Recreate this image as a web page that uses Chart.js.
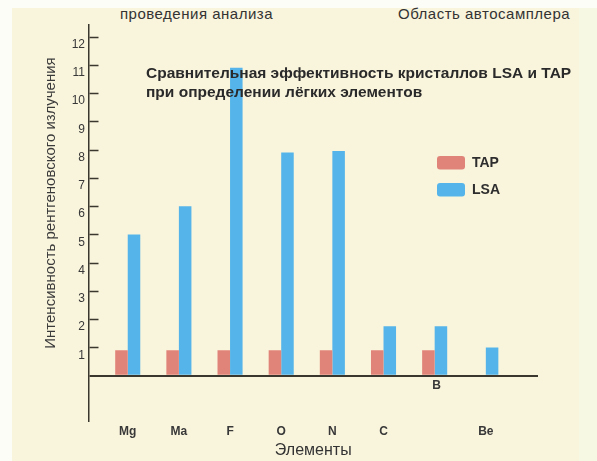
<!DOCTYPE html>
<html><head><meta charset="utf-8">
<script src="https://cdn.jsdelivr.net/npm/chart.js@4.4.0/dist/chart.umd.min.js"></script>
<style>
html,body{margin:0;padding:0;width:597px;height:461px;overflow:hidden;background:#fdfdf7;}
#bg{position:absolute;left:12px;top:8px;width:567px;height:453px;background:#f9f4dc;}
#strip{position:absolute;left:579px;top:8px;width:18px;height:453px;background:#f7f8e3;}
.hdr{position:absolute;top:5px;font:15px "Liberation Sans",Arial,sans-serif;letter-spacing:0.5px;color:#333;white-space:nowrap;line-height:17px;}
#wrap{position:absolute;left:0;top:0;width:597px;height:461px;}
</style></head>
<body>
<div id="bg"></div><div id="strip"></div>
<div class="hdr" id="h1" style="left:120px"></div>
<div class="hdr" id="h2" style="left:398px"></div>
<div id="wrap"><canvas id="c" width="597" height="461"></canvas></div>
<script>
// ---- data ----
const categories = ['Mg', 'Ma', 'F', 'O', 'N', 'C', 'B', 'Be'];
const tapValues = [0.9, 0.9, 0.9, 0.9, 0.9, 0.9, 0.9, null];
const lsaValues = [5, 6, 10.9, 7.9, 7.95, 1.75, 1.75, 1.0];
const yTickValues = [0, 1, 2, 3, 4, 5, 6, 7, 8, 9, 10, 11, 12];
const seriesNames = ['TAP', 'LSA'];
const seriesColors = ['#e0847a', '#55b5ea'];
const titleLines = ['Сравнительная эффективность кристаллов LSA и TAP', 'при определении лёгких элементов'];
const yTitle = 'Интенсивность рентгеновского излучения';
const xTitle = 'Элементы';
const headerTexts = ['проведения анализа', 'Область автосамплера'];
const nearAxisLabel = 'B';

document.getElementById('h1').textContent = headerTexts[0];
document.getElementById('h2').textContent = headerTexts[1];

const FONT = '"Liberation Sans", Arial, sans-serif';
Chart.defaults.font.family = FONT;
const ink = '#3a372e';
const textInk = '#383838';

const overlay = {
  id: 'overlay',
  afterDatasetsDraw(chart) {
    const {ctx, chartArea, scales: {x, y}} = chart;
    ctx.save();
    // tick marks drawn inside the plot, to the right of the axis
    ctx.strokeStyle = ink; ctx.lineWidth = 1.5;
    yTickValues.filter(v => v >= 1).forEach(v => {
      const py = Math.round(y.getPixelForValue(v)) + 0.5;
      ctx.beginPath(); ctx.moveTo(chartArea.left + 1, py); ctx.lineTo(chartArea.left + 10, py); ctx.stroke();
    });
    // label placed right under the baseline
    const bi = categories.indexOf(nearAxisLabel);
    ctx.fillStyle = textInk; ctx.font = 'bold 12px ' + FONT;
    ctx.textAlign = 'center'; ctx.textBaseline = 'middle';
    ctx.fillText(nearAxisLabel, x.getPixelForValue(bi) + 2, y.getPixelForValue(0) + 10);
    // title
    ctx.textAlign = 'left'; ctx.fillStyle = '#2a2a2a';
    ctx.font = 'bold 15.5px ' + FONT;
    titleLines.forEach((t, i) => ctx.fillText(t, 146, 74 + i * 19));
    // legend
    chart.data.datasets.forEach((ds, i) => {
      const by = 156 + i * 27;
      ctx.fillStyle = ds.backgroundColor;
      ctx.beginPath(); ctx.roundRect(437, by, 28, 13.5, 3); ctx.fill();
      ctx.fillStyle = '#2e2e2e'; ctx.font = 'bold 14px ' + FONT;
      ctx.textAlign = 'left'; ctx.textBaseline = 'middle';
      ctx.fillText(ds.label, 472, by + 7);
    });
    // y axis title
    ctx.translate(51, 203);
    ctx.rotate(-Math.PI / 2);
    ctx.fillStyle = '#3a3a3a'; ctx.font = '15px ' + FONT;
    ctx.textAlign = 'center'; ctx.textBaseline = 'middle';
    ctx.fillText(yTitle, 0, 0);
    ctx.restore();
  }
};

new Chart(document.getElementById('c'), {
  type: 'bar',
  data: {
    datasets: [
      {label: seriesNames[0], data: tapValues.map((v, i) => ({x: i, y: v})), backgroundColor: seriesColors[0]},
      {label: seriesNames[1], data: lsaValues.map((v, i) => ({x: i, y: v})), backgroundColor: seriesColors[1]}
    ]
  },
  options: {
    responsive: false,
    animation: false,
    events: [],
    categoryPercentage: 0.49,
    barPercentage: 1.0,
    layout: {padding: {top: 25, right: 59, left: 0, bottom: 0}},
    plugins: {legend: {display: false}, title: {display: false}, tooltip: {enabled: false}},
    scales: {
      x: {
        type: 'linear', min: -0.767, max: 8.02, offset: false,
        afterBuildTicks: s => { s.ticks = categories.map((_, i) => ({value: i})); },
        afterFit: s => { s.height = 40.3; },
        grid: {display: false, drawTicks: false, offset: false},
        border: {display: false},
        ticks: {
          autoSkip: false, maxRotation: 0, padding: 4, color: textInk,
          font: {size: 12, weight: 'bold'},
          callback: v => categories[v] === nearAxisLabel ? '' : categories[v]
        },
        title: {display: true, text: xTitle, color: '#333', font: {size: 16}, padding: {top: 0, bottom: 1}}
      },
      y: {
        min: -1.593, max: 12.41,
        afterBuildTicks: s => { s.ticks = yTickValues.map(v => ({value: v})); },
        afterFit: s => { s.width = 88.5; },
        border: {display: true, color: ink, width: 1.5},
        grid: {
          drawTicks: false,
          color: c => (c.tick && c.tick.value === 0) ? ink : 'rgba(0,0,0,0)',
          lineWidth: c => (c.tick && c.tick.value === 0) ? 2 : 1
        },
        ticks: {padding: 3.5, labelOffset: 8, color: textInk, font: {size: 12}, callback: v => v >= 1 ? String(v) : ''}
      }
    }
  },
  plugins: [overlay]
});
</script>
</body></html>
